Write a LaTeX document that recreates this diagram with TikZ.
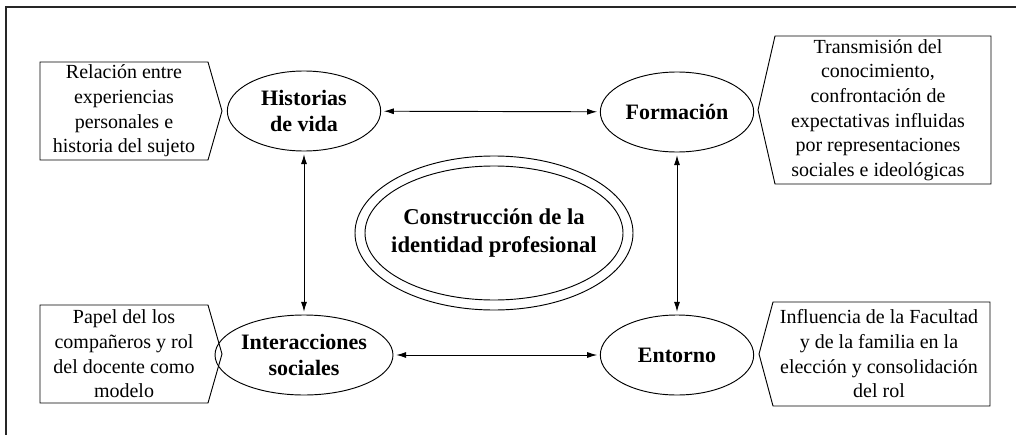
\documentclass[tikz,border=0pt]{standalone}
\usepackage{fontspec}
\setmainfont{Liberation Serif}
\usetikzlibrary{shapes.geometric,arrows.meta}
\begin{document}
\begin{tikzpicture}[x=0.75pt,y=-0.75pt,
  boxtext/.style={align=center,font=\fontsize{15}{18.5}\selectfont,inner sep=0pt},
  oval/.style={ellipse,draw,line width=0.7pt,minimum width=115pt,minimum height=60pt,inner sep=0pt,align=center,font=\fontsize{16.5}{19}\selectfont\bfseries},
  outline/.style={line width=0.7pt},
  arr/.style={line width=0.7pt,{Latex[length=7.5pt,width=4.5pt]}-{Latex[length=7.5pt,width=4.5pt]},shorten <=2pt,shorten >=2pt}]
\useasboundingbox (0,0) rectangle (1016,435);
\draw[line width=1pt,black!85] (1016,7) -- (6,7) -- (6,435);
% central double ellipse
\node[inner sep=0pt,align=center,font=\fontsize{17}{21}\selectfont\bfseries] (core) at (494,233) {Construcción de la\\identidad profesional};
\draw[outline] (core.center) ellipse [x radius=129, y radius=67];
\draw[outline] (core.center) ellipse [x radius=139, y radius=77];
% four ellipses
\node[oval] (hist) at (304,111) {Historias\\de vida};
\node[oval] (form) at (677,112) {Formación};
\node[oval] (inter) at (304,355) {Interacciones\\sociales};
\node[oval] (ent) at (677,355) {Entorno};
% arrows
\draw[arr] (hist) -- (form);
\draw[arr] (inter) -- (ent);
\draw[arr] (hist) -- (inter);
\draw[arr] (form) -- (ent);
% side boxes
\draw[outline] (40,62) -- (208,62) -- (222,111) -- (208,160) -- (40,160) -- cycle;
\node[boxtext] (tltext) at (124,111) {Relación entre\\experiencias\\personales e\\historia del sujeto};
\draw[outline] (40,305) -- (208,305) -- (222,354) -- (208,403) -- (40,403) -- cycle;
\node[boxtext] (bltext) at (124,354) {Papel del los\\compañeros y rol\\del docente como\\modelo};
\draw[outline] (775,36) -- (991,36) -- (991,184) -- (775,184) -- (758,110) -- cycle;
\node[boxtext] (trtext) at (878,110) {Transmisión del\\conocimiento,\\confrontación de\\expectativas influidas\\por representaciones\\sociales e ideológicas};
\draw[outline] (773,302) -- (990,302) -- (990,406) -- (773,406) -- (759,354) -- cycle;
\node[boxtext] (brtext) at (879,354) {Influencia de la Facultad\\y de la familia en la\\elección y consolidación\\del rol};
\end{tikzpicture}
\end{document}
